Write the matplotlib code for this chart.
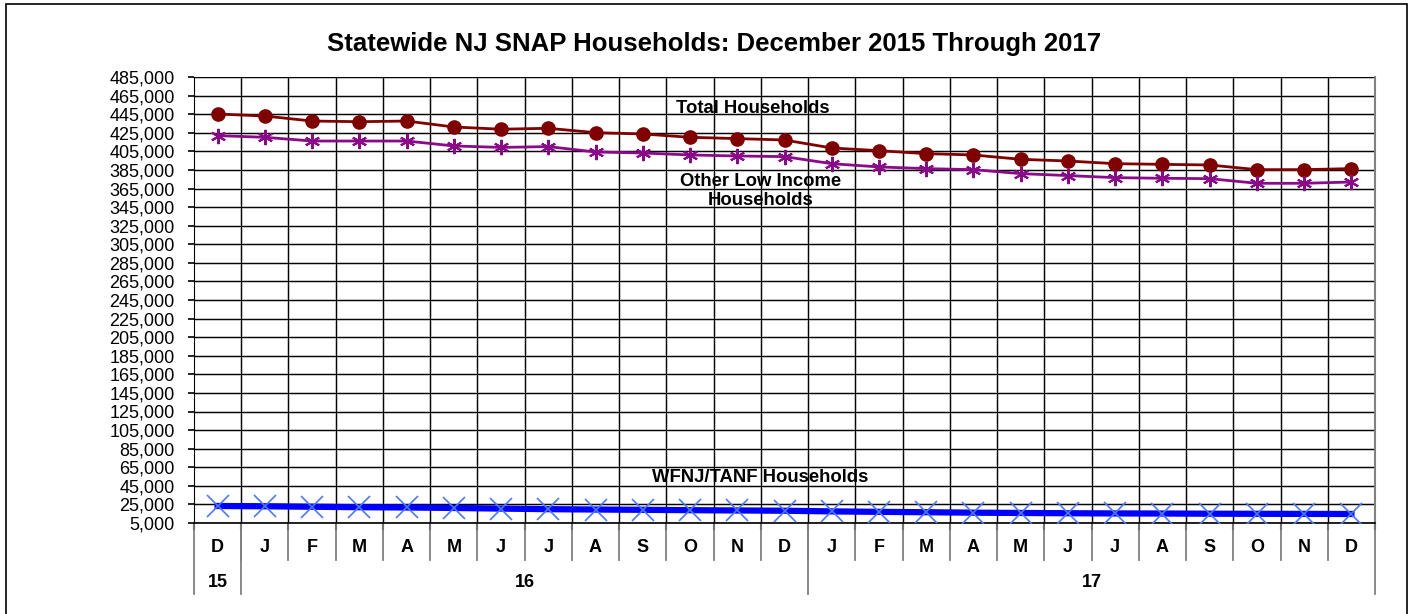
import numpy as np
import matplotlib
matplotlib.use("Agg")
from matplotlib import pyplot as plt
from matplotlib.lines import Line2D
from matplotlib.patches import Rectangle
from matplotlib.ticker import FuncFormatter

plt.rcParams["font.family"] = ["Liberation Sans", "DejaVu Sans"]

# Data
months = ["D", "J", "F", "M", "A", "M", "J", "J", "A", "S", "O", "N", "D",
          "J", "F", "M", "A", "M", "J", "J", "A", "S", "O", "N", "D"]
years = ["15", "16", "17"]
year_spans = [(0, 0), (1, 12), (13, 24)]

total_hh = [445200, 443000, 437600, 436900, 437600, 431200, 428800, 429800,
            425100, 423700, 420100, 418700, 417200, 408600, 405700, 402500,
            401100, 396400, 394600, 391700, 391000, 390300, 385300, 385300,
            386400]
other_hh = [421900, 420100, 416100, 416100, 416100, 410800, 409200, 410100,
            404300, 403200, 401100, 400000, 399300, 391700, 388200, 386400,
            385300, 381000, 378900, 376700, 376000, 375600, 370600, 370600,
            372000]
tanf_hh = [23300, 23000, 22500, 22000, 21700, 21200, 20500, 19900, 19500,
           19200, 18800, 18500, 18200, 17500, 17000, 16600, 16100, 15800,
           15500, 15300, 15200, 15000, 14900, 14800, 14700]

yticks = np.arange(5000, 485001, 20000)


def main():
    fig = plt.figure(figsize=(14.12, 6.14), dpi=100)
    ax = fig.add_axes([194 / 1412, 1 - 523 / 614, (1375 - 194) / 1412, (523 - 77) / 614])

    x = np.arange(len(months))

    # grid: thin black line with a soft grey shadow
    for y in yticks:
        ax.axhline(y, color="#b0b0b0", lw=1.8, zorder=0.5)
        ax.axhline(y, color="black", lw=0.7, zorder=0.6)
    for b in np.arange(0.5, len(months) - 0.5, 1):
        ax.axvline(b, color="#b0b0b0", lw=1.8, zorder=0.5)
        ax.axvline(b, color="black", lw=0.7, zorder=0.6)

    ax.plot(x, total_hh, color="#800000", lw=2, marker="o", markersize=9.5,
            zorder=3)
    ax.plot(x, other_hh, color="#8a0a8a", lw=2, marker=(6, 2, 0),
            markersize=11, markeredgewidth=1.5, zorder=3)
    ax.plot(x, tanf_hh, color="#0000ff", lw=4.5, zorder=3)
    ax.plot(x, tanf_hh, color="#4a78ff", lw=0, marker="x", markersize=16,
            markeredgewidth=1.2, zorder=4)

    ax.set_xlim(-0.5, len(months) - 0.5)
    ax.set_ylim(5000, 485000)
    ax.set_yticks(yticks)
    ax.yaxis.set_major_formatter(FuncFormatter(lambda v, p: "{:,.0f}".format(v)))
    ax.tick_params(axis="y", labelsize=13, length=4, width=1.2, pad=10)
    ax.set_xticks(np.arange(-0.5, len(months), 1))
    ax.set_xticklabels([])
    ax.tick_params(axis="x", length=5, width=1.5, direction="out")

    for s in ["top", "right"]:
        ax.spines[s].set_visible(False)
    ax.spines["left"].set_color("black")
    ax.spines["bottom"].set_color("black")
    ax.spines["bottom"].set_linewidth(1.2)

    trans = ax.get_xaxis_transform()
    # month labels and separators
    for i, m in enumerate(months):
        ax.text(i, -0.056, m, transform=trans, ha="center", va="center",
                fontsize=13, fontweight="bold")
    for b in np.arange(0.5, len(months) - 0.5, 1):
        ax.add_line(Line2D([b, b], [0, -0.083], transform=trans,
                           color="#808080", lw=1.3, clip_on=False))
    # year labels and separators
    for yr, (a, b) in zip(years, year_spans):
        ax.text((a + b) / 2, -0.1345, yr, transform=trans, ha="center",
                va="center", fontsize=13, fontweight="bold")
    for b in [-0.5, 0.5, 12.5, len(months) - 0.5]:
        ax.add_line(Line2D([b, b], [0, -0.159], transform=trans,
                           color="#808080", lw=1.3, clip_on=False))
    ax.add_line(Line2D([len(months) - 0.5] * 2, [0, 1], transform=trans,
                       color="#808080", lw=1.5, clip_on=False))

    # series labels
    ax.text(11.32, 451600, "Total Households", ha="center", va="center",
            fontsize=13.3, fontweight="bold", zorder=5)
    ax.text(11.49, 362300, "Other Low Income\nHouseholds", ha="center",
            va="center", fontsize=13.3, fontweight="bold", linespacing=1.2,
            zorder=5)
    ax.text(11.49, 53500, "WFNJ/TANF Households", ha="center", va="center",
            fontsize=13.3, fontweight="bold", zorder=5)

    fig.text(714 / 1412, 1 - 44 / 614,
             "Statewide NJ SNAP Households: December 2015 Through 2017",
             ha="center", va="center", fontsize=18.5, fontweight="bold")

    fig.add_artist(Rectangle((6 / 1412, -0.05), 1401 / 1412, 1 - 4 / 614 + 0.05,
                             transform=fig.transFigure, fill=False,
                             edgecolor="black", lw=1.2))

    fig.savefig("out.png", dpi=100)


if __name__ == "__main__":
    main()
